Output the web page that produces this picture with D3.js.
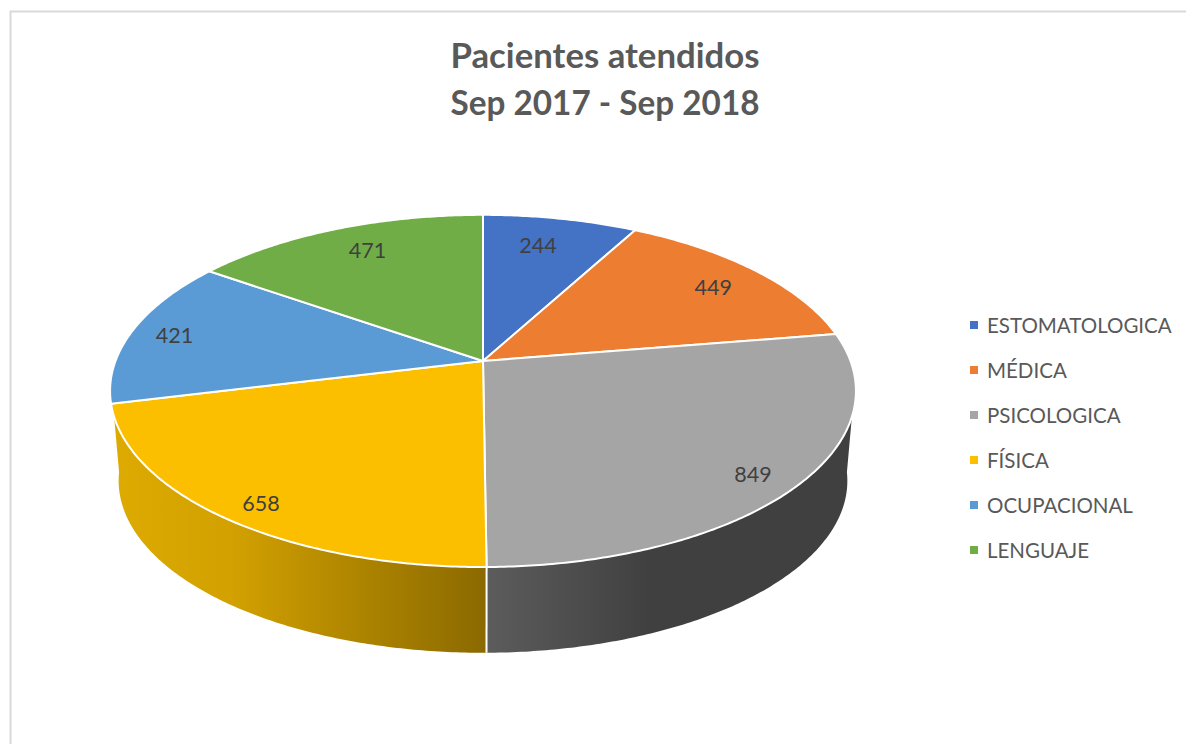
<!DOCTYPE html>
<html><head><meta charset="utf-8">
<script src="https://cdn.jsdelivr.net/npm/d3@7"></script>
<style>html,body{margin:0;padding:0;background:#fff;overflow:hidden}svg{display:block}text{font-family:Lato,"Open Sans",sans-serif}</style>
</head><body><svg id="c" width="1186" height="744"></svg>
<script>
const categories = ["ESTOMATOLOGICA","MÉDICA","PSICOLOGICA","FÍSICA","OCUPACIONAL","LENGUAJE"];
const values = [244,449,849,658,421,471];
const colors = ["#4472C4","#ED7D31","#A5A5A5","#FBBF00","#5B9BD5","#70AD47"];
const titleLines = ["Pacientes atendidos","Sep 2017 - Sep 2018"];
const labelRadius = [0.78,0.82,0.89,0.9,0.875,0.805];
const labelAngleShift = [-1.7,1,2,-1.8,-0.5,1.4];

(function(){
const svg = d3.select("#c");
const defs = svg.append("defs");
// chart frame
svg.append("path").attr("d","M10.5,744V11.5H1186").attr("fill","none").attr("stroke","#d9d9d9").attr("stroke-width",2);

// title
svg.append("g").selectAll("text").data(titleLines).join("text")
  .attr("x",605).attr("y",(d,i)=>68+i*46.5).attr("text-anchor","middle")
  .attr("font-size",33.5).attr("font-weight",700).attr("fill","#595959")
  .attr("textLength",309).attr("lengthAdjust","spacingAndGlyphs").text(d=>d);

// perspective projection of the unit disc
const K=0.17, cx=483, cy=361;
const sx=d3.scaleLinear().domain([-1,1]).range([cx-367.5,cx+367.5]);
const sy=d3.scaleLinear().domain([-1,1]).range([cy-171,cy+171]);
const upper=(a,r=1)=>{const u=r*Math.sin(a),v=-r*Math.cos(a),w=1-K*v;return [sx(u/w),sy(v/w)];};
const DS=0.977, DY=90.5;
const low=a=>{const p=upper(a);return [cx+DS*(p[0]-cx),cy+DY+DS*(p[1]-cy)];};
const line=d3.line();
const samples=(a0,a1)=>{const n=Math.max(2,Math.ceil(Math.abs(a1-a0)/0.01));return d3.range(n+1).map(i=>a0+(a1-a0)*i/n);};

const arcs=d3.pie().sort(null).value(d=>d)(values);
const rad=d=>d*Math.PI/180;

// gradients for the side wall
const gGray=defs.append("linearGradient").attr("id","wall2").attr("gradientUnits","userSpaceOnUse")
  .attr("x1",487).attr("x2",650).attr("y1",0).attr("y2",0);
gGray.append("stop").attr("offset",0).attr("stop-color","#5c5c5c");
gGray.append("stop").attr("offset",1).attr("stop-color","#404040");
const gYel=defs.append("linearGradient").attr("id","wall3").attr("gradientUnits","userSpaceOnUse")
  .attr("x1",118).attr("x2",487).attr("y1",0).attr("y2",0);
gYel.append("stop").attr("offset",0).attr("stop-color","#dcaa00");
gYel.append("stop").attr("offset",0.3).attr("stop-color","#d3a100");
gYel.append("stop").attr("offset",1).attr("stop-color","#8a6900");

// side walls: slices crossing the front of the disc
const wallBounds={2:{topA:rad(108),lowA:rad(97)},3:{topA:rad(252),lowA:rad(263)}};
const wallG=svg.append("g");
[2,3].forEach(i=>{
  const seam=i===2?arcs[i].endAngle:arcs[i].startAngle, b=wallBounds[i];
  const pts=[...samples(b.topA,seam).map(a=>upper(a)),...samples(seam,b.lowA).map(low)];
  wallG.append("path").attr("d",line(pts)+"Z").attr("fill",`url(#wall${i})`);
});
// white seam between the two walls
const seamA=arcs[2].endAngle;
wallG.append("path").attr("d",line([upper(seamA),low(seamA)])).attr("stroke","#fff").attr("stroke-width",2).attr("fill","none");

// top face
svg.append("g").selectAll("path").data(arcs).join("path")
  .attr("d",d=>line([[cx,cy],...samples(d.startAngle,d.endAngle).map(a=>upper(a))])+"Z")
  .attr("fill",(d,i)=>colors[i]).attr("stroke","#fff").attr("stroke-width",2).attr("stroke-linejoin","round");

// data labels
svg.append("g").selectAll("text").data(arcs).join("text")
  .each(function(d,i){const p=upper((d.startAngle+d.endAngle)/2+rad(labelAngleShift[i]),labelRadius[i]);
    d3.select(this).attr("x",p[0]).attr("y",p[1]).attr("dy","0.35em");})
  .attr("text-anchor","middle").attr("font-size",21.5).attr("fill","#404040").text(d=>d.data);

// legend
const ly=d3.scalePoint().domain(categories).range([325,550]);
const lg=svg.append("g").selectAll("g").data(categories).join("g").attr("transform",d=>`translate(970,${ly(d)})`);
lg.append("rect").attr("x",0).attr("y",-4).attr("width",8).attr("height",8).attr("fill",(d,i)=>colors[i]);
lg.append("text").attr("x",17).attr("y",1).attr("dy","0.36em").attr("font-size",20.5).attr("fill","#595959").text(d=>d);
})();
</script></body></html>
